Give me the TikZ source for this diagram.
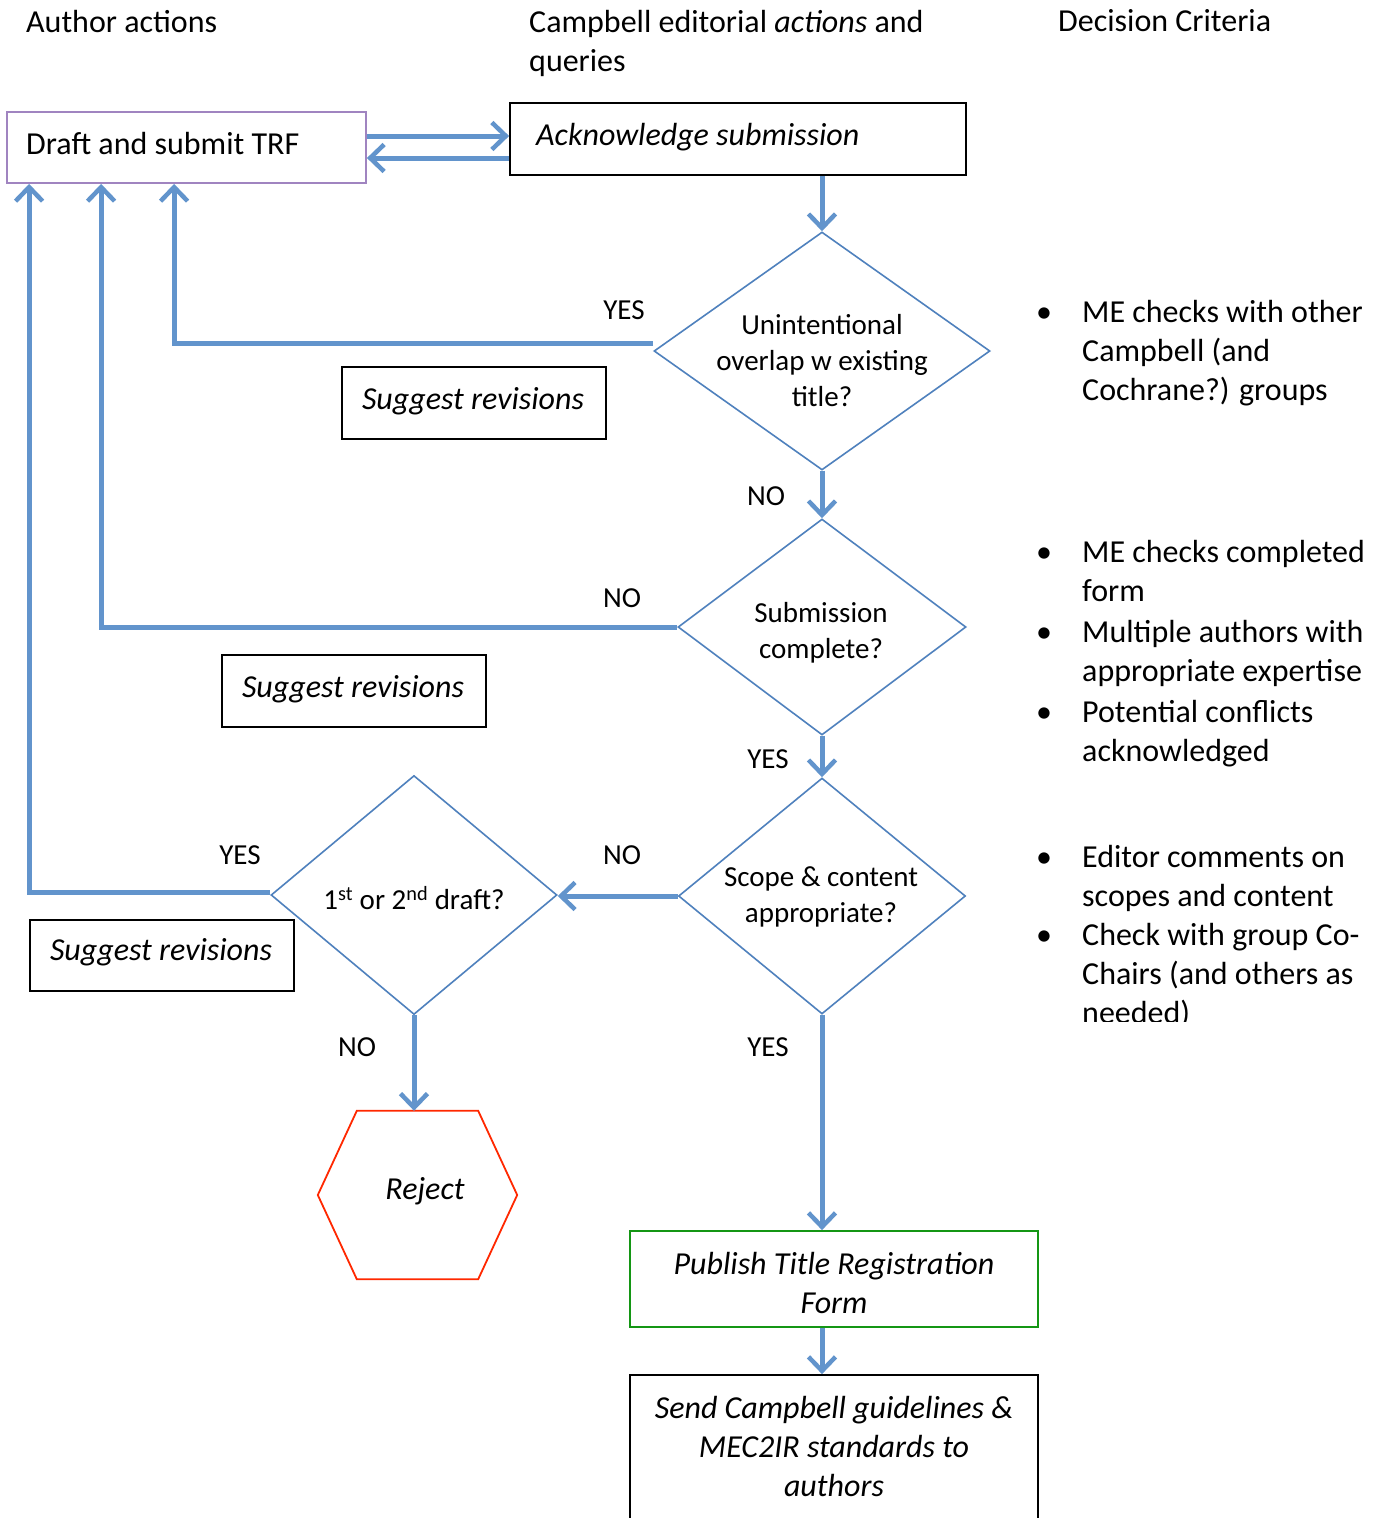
\documentclass[tikz,border=0pt]{standalone}
\usepackage{fontspec}
\setmainfont{Carlito}
\usetikzlibrary{arrows.meta,shapes.geometric,calc}
\definecolor{flowblue}{RGB}{98,148,204}
\definecolor{dblue}{RGB}{79,129,189}
\definecolor{boxpurple}{RGB}{160,132,192}
\definecolor{boxgreen}{RGB}{20,150,20}
\definecolor{boxred}{RGB}{255,40,0}
\tikzset{
  big/.style={font=\fontsize{32}{39}\selectfont},
  small/.style={font=\fontsize{29}{36}\selectfont},
  flow/.style={draw=flowblue, line width=5pt, line join=miter,
    -{Straight Barb[length=14pt,width=27pt,line width=4.5pt]}},
  dec/.style={diamond, draw=dblue, line width=1.6pt, inner sep=0pt, fill=white},
  blackbox/.style={draw=black, line width=1.8pt, inner sep=0pt},
  txt/.style={big, inner sep=0pt},
  lbl/.style={small, inner sep=0pt},
}
\begin{document}
\begin{tikzpicture}[x=1pt,y=-1pt]
\useasboundingbox (0,0) rectangle (1381,1518);
\fill[white] (0,0) rectangle (1381,1518);

% headers
\node[txt, anchor=west] (h1) at (26,22) {Author actions};
\node[txt, anchor=west, align=left] (h2) at (529,43) {Campbell editorial \textit{actions} and\\queries};
\node[txt, anchor=west] (h3) at (1058,21) {Decision Criteria};

% boxes
\node[draw=boxpurple, line width=1.8pt, minimum width=359pt, minimum height=71pt, inner sep=0pt] (draft) at (186.5,147.5) {};
\node[txt, anchor=west] (draftt) at (26,144) {Draft and submit TRF};
\node[blackbox, minimum width=456pt, minimum height=72pt] (ack) at (738,139) {};
\node[txt, anchor=west] (ackt) at (536,137) {\textit{Acknowledge submission}};

\node[blackbox, minimum width=264pt, minimum height=72pt] (sr1) at (474,403) {};
\node[txt] (sr1t) at (473,401) {\textit{Suggest revisions}};
\node[blackbox, minimum width=264pt, minimum height=72pt] (sr2) at (354,691) {};
\node[txt] (sr2t) at (353,689) {\textit{Suggest revisions}};
\node[blackbox, minimum width=264pt, minimum height=71pt] (sr3) at (162,955.5) {};
\node[txt] (sr3t) at (161,952) {\textit{Suggest revisions}};

% decisions
\node[dec, minimum width=336pt, minimum height=238pt] (d1) at (822,351) {};
\node[lbl, align=center] (d1t) at (822,361) {Unintentional\\overlap w existing\\title?};
\node[dec, minimum width=288pt, minimum height=216pt] (d2) at (822,627) {};
\node[lbl, align=center] (d2t) at (821,633) {Submission\\complete?};
\node[dec, minimum width=287pt, minimum height=236pt] (d3) at (822,896) {};
\node[lbl, align=center] (d3t) at (821,897) {Scope \& content\\appropriate?};
\node[dec, minimum width=286pt, minimum height=239pt] (d4) at (414,895) {};
\node[lbl] (d4t) at (414,898) {1\textsuperscript{st} or 2\textsuperscript{nd} draft?};

% reject hexagon
\node[minimum width=199pt, minimum height=168pt, inner sep=0pt] (rej) at (417.5,1195) {};
\draw[boxred, line width=1.8pt, line join=miter]
  (rej.west) -- ([xshift=39pt]rej.north west) -- ([xshift=-39pt]rej.north east)
  -- (rej.east) -- ([xshift=-39pt]rej.south east) -- ([xshift=39pt]rej.south west) -- cycle;
\node[txt] (rejt) at (425,1191) {\textit{Reject}};

% publish and send
\node[draw=boxgreen, line width=1.8pt, minimum width=408pt, minimum height=96pt, inner sep=0pt] (pub) at (834,1279) {};
\node[txt, align=center] (pubt) at (834,1283) {\textit{Publish Title Registration}\\\textit{Form}};
\node[blackbox, minimum width=408pt, minimum height=160pt] (send) at (834,1455) {};
\node[txt, align=center] (sendt) at (834,1446) {\textit{Send Campbell guidelines \&}\\\textit{MEC2IR standards to}\\\textit{authors}};

% connectors
\coordinate (r1) at ([yshift=11.5pt]draft.east);
\draw[flow] (r1) -- (r1 -| ack.west);
\coordinate (l1) at ([yshift=-19pt]ack.west);
\draw[flow] (l1) -- (l1 -| draft.east);
\draw[flow] (ack.south -| d1.north) -- (d1.north);
\draw[flow] ([yshift=8pt]d1.west) -| ([xshift=168pt]draft.south west);
\draw[flow] (d1.south) -- (d2.north);
\draw[flow] (d2.west) -| ([xshift=95pt]draft.south west);
\draw[flow] (d2.south) -- (d3.north);
\draw[flow] (d3.west) -- (d3.west -| d4.east);
\draw[flow] ([yshift=3pt]d4.west) -| ([xshift=23pt]draft.south west);
\draw[flow] (d4.south) -- (d4.south |- rej.north);
\draw[flow] (d3.south) -- (d3.south |- pub.north);
\draw[flow] (pub.south -| d3.south) -- (d3.south |- send.north);

% labels
\node[lbl] (y1) at (624,310) {YES};
\node[lbl] (n1) at (766,496) {NO};
\node[lbl] (n2) at (622,598) {NO};
\node[lbl] (y2) at (768,759) {YES};
\node[lbl] (n3) at (622,855) {NO};
\node[lbl] (y3) at (240,855) {YES};
\node[lbl] (n4) at (357,1047) {NO};
\node[lbl] (y4) at (768,1047) {YES};

% criteria
\node[txt, align=left, anchor=west] (c1) at (1036,353)
  {\makebox[46pt][l]{•}ME checks with other\\\hspace*{46pt}Campbell (and\\\hspace*{46pt}Cochrane?) groups};
\node[txt, align=left, anchor=west] (c2) at (1036,654)
  {\makebox[46pt][l]{•}ME checks completed\\\hspace*{46pt}form\\[2pt]
   \makebox[46pt][l]{•}Multiple authors with\\\hspace*{46pt}appropriate expertise\\[2pt]
   \makebox[46pt][l]{•}Potential conflicts\\\hspace*{46pt}acknowledged};
\begin{scope}
\clip (1000,820) rectangle (1381,1021);
\node[txt, align=left, anchor=west] (c3) at (1036,937)
  {\makebox[46pt][l]{•}Editor comments on\\\hspace*{46pt}scopes and content\\
   \makebox[46pt][l]{•}Check with group Co-\\\hspace*{46pt}Chairs (and others as\\\hspace*{46pt}needed)};
\end{scope}
\end{tikzpicture}
\end{document}
